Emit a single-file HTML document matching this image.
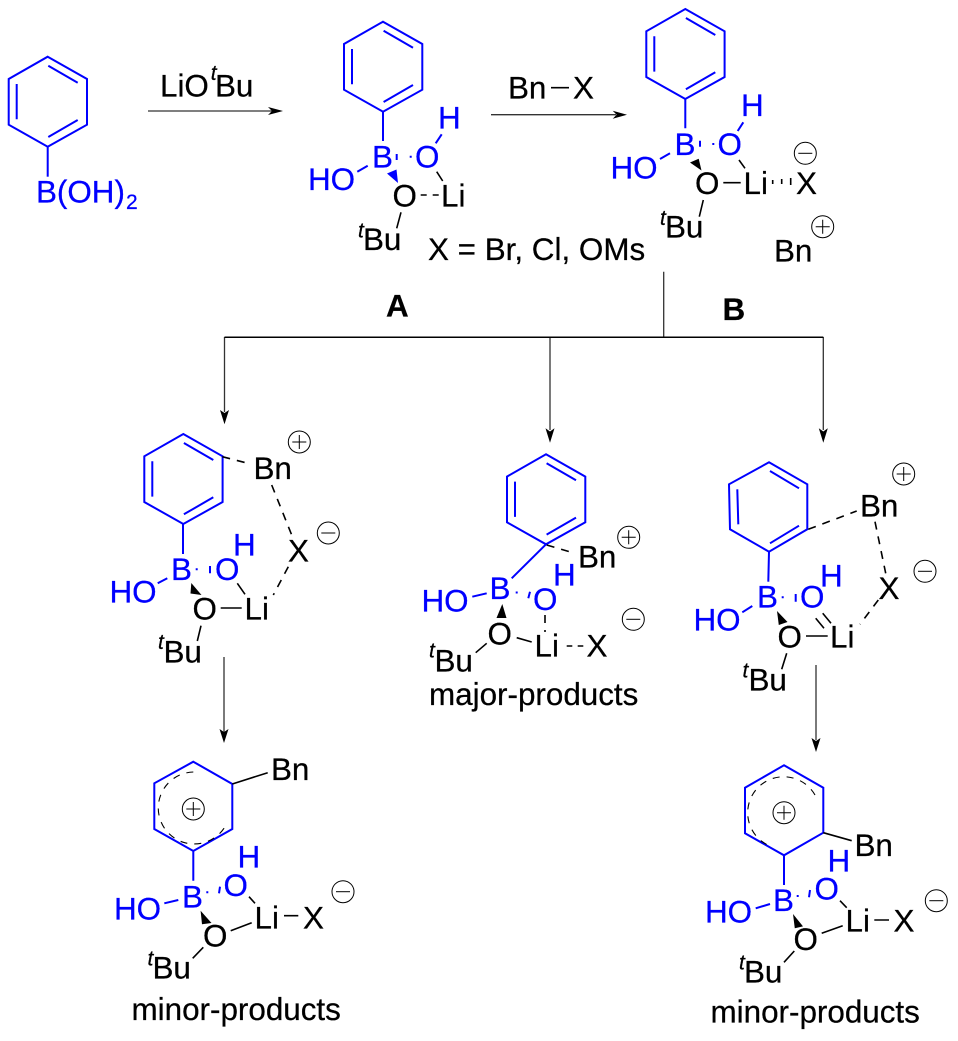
<!DOCTYPE html>
<html><head><meta charset="utf-8"><style>
html,body{margin:0;padding:0;background:#fff}
svg{display:block}
text{font-family:"Liberation Sans",Arial,sans-serif;font-size:31.4px;fill:#000;stroke:#000;stroke-width:.25}
.b text{fill:#0000ff;stroke:#0000ff}
text.s{font-size:21px;font-style:italic}
.bl{stroke:#0000ff;stroke-width:2;fill:none}
.k{stroke:#000;stroke-width:1.6;fill:none}
.d{stroke:#000;stroke-width:1.6;fill:none;stroke-dasharray:8 7}
.a{stroke:#333;stroke-width:1.3;fill:none}
.c{stroke:#000;stroke-width:1;fill:#fff}
.p{stroke:#000;stroke-width:1;fill:none}
</style></head><body>
<svg width="958" height="1041" viewBox="0 0 958 1041" xmlns="http://www.w3.org/2000/svg">
<defs>
<g id="ring" class="bl"><path d="M0 0L39.3 22.3V68L0 90L-39 68V22.3Z"/><path d="M.6 9L30 26M.6 80.3L30 63.3M-31 27.3V62.6"/></g>
<g id="pl"><circle class="c" r="11"/><path class="p" d="M-7 0H7M0-7V7"/></g>
<g id="mi"><circle class="c" r="11"/><path class="p" d="M-7 0H7"/></g>
</defs>

<!-- arrows -->
<path class="a" d="M148 111H272M491 114.7H616M663.7 271.7V337M224.5 337V412M550 337V430M823.3 337V430M224 657V732M816 665V740"/>
<path d="M224.5 337.3H823.3" stroke="#000" stroke-width="1.5" fill="none"/>
<path d="M283 111L268 107L272 111L268 115ZM627 114.7L612.7 110.7L616.7 114.7L612.7 118.7ZM224.5 424.3L220 410L224.5 413L229 410ZM550 442.7L545.5 428.3L550 431.5L554.5 428.3ZM823.3 442.7L818.8 428.3L823.3 431.5L827.8 428.3ZM224 743L219.5 729L224 732L228.5 729ZM816 752L811.5 738L816 741L820.5 738Z"/>

<!-- reagents / labels -->
<text x="160" y="96.7">LiO</text><text class="s" x="210.7" y="80">t</text><text x="215" y="96.7">Bu</text>
<text x="508" y="98.3">Bn</text><path class="k" d="M551 87.7H569"/><text x="573" y="98.3">X</text>
<text x="428" y="260">X = Br, Cl, OMs</text>
<text x="386" y="316.7" style="font-weight:bold">A</text>
<text x="722.5" y="320" style="font-weight:bold">B</text>

<!-- boronic acid -->
<use href="#ring" x="47.7" y="56.7"/>
<path class="bl" d="M47.7 146.7V176.7"/>
<g class="b"><text x="36" y="202.7">B(OH)</text><text x="126" y="209" style="font-size:21px">2</text></g>

<!-- A -->
<use href="#ring" x="383" y="21.7"/>
<path class="bl" d="M383 111.7V141M357.3 171.7L367.7 165.7M435.7 143.3L441.7 134.3M396.7 154V160M410.7 155.8V157.8"/>
<path d="M387 173.5L396.5 169.5L398 183Z" fill="#00f"/>
<g class="b"><text x="372" y="167.3">B</text><text x="415" y="167.3">O</text><text x="438" y="128.7">H</text><text x="308" y="190">HO</text></g>
<text x="392.5" y="206.7">O</text><text x="441" y="206.7">Li</text>
<path class="k" d="M436.7 171.7L442.7 181M420.7 195H426.7M432.7 195H438.7M401 212.3L396.7 228.3"/>
<text class="s" x="358" y="237.3">t</text><text x="363" y="250">Bu</text>

<!-- B -->
<use href="#ring" x="685.3" y="9"/>
<path class="bl" d="M685.3 99V128.3M660 159L670 153.3M737.7 131L743.3 122.3M700 140.7V146.7M713.3 143V145"/>
<path d="M690 162.5L698.7 158.7L701.5 170.5Z" fill="#000"/>
<g class="b"><text x="674.5" y="155">B</text><text x="717.5" y="155">O</text><text x="741" y="116">H</text><text x="610.5" y="178.3">HO</text></g>
<text x="695" y="194">O</text><text x="743.5" y="194">Li</text><text x="796" y="194">X</text>
<path class="k" d="M723.3 182.7H740.7M739 160L745 168.3M703.3 200L699.3 216.7M772.7 180V184M781.7 179V184M790.7 178V185"/>
<text class="s" x="660" y="225">t</text><text x="665" y="237.3">Bu</text>
<use href="#mi" x="805.3" y="153.3"/><use href="#pl" x="822.7" y="226.7"/>
<text x="774" y="261.7">Bn</text>

<!-- left TS -->
<use href="#ring" x="183.3" y="434"/>
<path class="bl" d="M183 524V554M157.7 583.3L167.3 578.3M196.7 568.3V570.3M210 566V573.3"/>
<path d="M191.3 583L201.5 595L190.5 593.5Z" fill="#000"/>
<g class="b"><text x="171" y="580">B</text><text x="215" y="580">O</text><text x="233" y="555.7">H</text><text x="109.5" y="602.7">HO</text></g>
<text x="192.5" y="619.3">O</text><text x="244.5" y="619.3">Li</text><text x="288" y="561.7">X</text><text x="253.5" y="479">Bn</text>
<path class="k" d="M220.7 608H241.7M237.3 583.3L245 594.3M201 625.7L197.3 641"/>
<path class="d" d="M222.3 456.7L250.7 464M271.7 485L291.7 535M288.3 566.7L273.3 595"/>
<text class="s" x="158" y="649">t</text><text x="163.5" y="662.7">Bu</text>
<use href="#pl" x="299.3" y="442"/><use href="#mi" x="328.3" y="533"/>

<!-- middle TS -->
<use href="#ring" x="546" y="454.3"/>
<path class="bl" d="M546 544.3L511.7 578.3M472.3 596.7L486.7 593.3M516.7 591.5V593.5M530 591.7L528.3 598.3"/>
<path d="M502.3 604L496.5 618H506.5Z" fill="#000"/>
<g class="b"><text x="489.5" y="599">B</text><text x="533" y="610">O</text><text x="553" y="585.7">H</text><text x="421.5" y="611.7">HO</text></g>
<text x="487.5" y="644.3">O</text><text x="534.5" y="656.7">Li</text><text x="586.5" y="656.7">X</text><text x="578" y="567.7">Bn</text>
<path class="k" d="M516.7 637.7L531.7 642M566.7 646H572.3M577.7 646H583.3M486.7 643.3L475.7 652.7"/>
<path class="d" d="M545 615V632M546.7 545L575 553.3"/>
<text class="s" x="429" y="657.3">t</text><text x="434.5" y="671.7">Bu</text>
<use href="#pl" x="628.7" y="537.3"/><use href="#mi" x="633.3" y="619.3"/>
<text x="429" y="705">major-products</text>

<!-- right TS -->
<g class="bl"><path d="M769 462.3L807.3 484.3V529.3L769 551.7L730 529.3L729 484.3Z"/><path d="M770 471L799 488.3M770 543.3L799 525.7M737.3 489.3L738.3 524.3M769 551.7L768.3 581.7M742.3 612.3L752.3 606M782.7 596.3V598.3M795.7 594V601.7"/></g>
<path d="M777 611L787.5 622L778.8 625Z" fill="#000"/>
<g class="b"><text x="757" y="607.7">B</text><text x="800" y="607.7">O</text><text x="820" y="586.7">H</text><text x="693.5" y="630.7">HO</text></g>
<text x="777.5" y="647.3">O</text><text x="830" y="647.3">Li</text><text x="878.5" y="599">X</text><text x="860" y="516.7">Bn</text>
<path class="k" d="M806 636H827.7M815.7 618.3L824 628.3M822.7 613.3L831 623.3M786.7 653.3L781.7 669.3"/>
<path class="d" d="M808.3 529.3L856.7 511M875 521.7L885.7 573.3M878.3 600L860 624.3"/>
<text class="s" x="742.5" y="677.3">t</text><text x="748.5" y="690.7">Bu</text>
<use href="#pl" x="903.7" y="474"/><use href="#mi" x="925" y="571.3"/>

<!-- lower left -->
<path class="bl" d="M193.3 761.7L232.3 784V829L193.3 851L154.3 829V783.3ZM193.3 851V880.7M164.3 903.3L178.3 900M207.3 891.3V893.3M220 886.7L219 893.3"/>
<path d="M193.3 772A36 36 0 1 0 226 825" fill="none" stroke="#000" stroke-width="1.1" stroke-dasharray="7 7"/>
<use href="#pl" x="193.3" y="809"/>
<path d="M200.6 910.7L211.5 923L202 924.2Z" fill="#000"/>
<g class="b"><text x="182" y="907.7">B</text><text x="223.5" y="896">O</text><text x="237.5" y="867.7">H</text><text x="114" y="919.3">HO</text></g>
<text x="203" y="946.7">O</text><text x="254.5" y="928.3">Li</text><text x="303" y="928.3">X</text><text x="271" y="780">Bn</text>
<path class="k" d="M230.7 930.7L251.7 922.7M249 896.7L255 903.3M284 915.7H298.3M203.3 947.3L192.7 958.3M232.3 784L267.7 772.7"/>
<use href="#mi" x="343" y="891.7"/>
<text class="s" x="147.5" y="965.7">t</text><text x="152.5" y="978.3">Bu</text>
<text x="131.5" y="1020">minor-products</text>

<!-- lower right -->
<path class="bl" d="M784 765.3L823.3 787.7V832.7L784 855.3L745 833.3V787.7ZM784 855.3V885M755.7 908.3L770 904M797.7 895V897M810 890L809 897.3"/>
<path d="M815 795A36 36 0 1 0 771.7 846.7" fill="none" stroke="#000" stroke-width="1.1" stroke-dasharray="7 7"/>
<use href="#pl" x="784" y="812.7"/>
<path d="M793 914L803 926.4L794.8 928.2Z" fill="#000"/>
<g class="b"><text x="773" y="911">B</text><text x="814.5" y="899.3">O</text><text x="827.5" y="871.7">H</text><text x="705" y="922.7">HO</text></g>
<text x="793.5" y="950">O</text><text x="845.5" y="931.7">Li</text><text x="893.5" y="931.7">X</text><text x="854.5" y="856">Bn</text>
<path class="k" d="M821.7 933.3L842.7 925.7M840 900.7L846.7 907.7M874.3 920H889M794.3 951L784 962.3M823.3 832.7L851.7 840.7"/>
<use href="#mi" x="936.3" y="900.7"/>
<text class="s" x="739" y="969.3">t</text><text x="744" y="982.3">Bu</text>
<text x="710.5" y="1022.7">minor-products</text>
</svg>
</body></html>
